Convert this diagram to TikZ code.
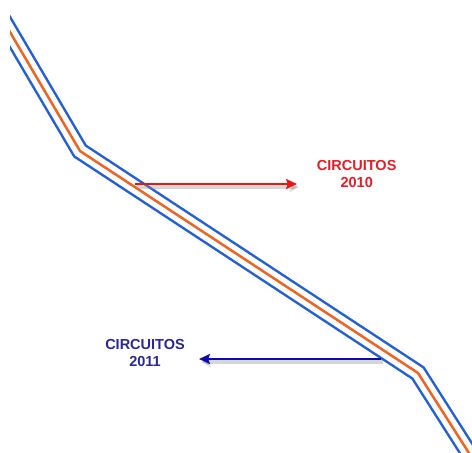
\documentclass[tikz,border=0pt]{standalone}
\usepackage{fontspec}
\setmainfont{Liberation Sans}
\usetikzlibrary{arrows.meta}
\definecolor{lineblue}{RGB}{35,95,215}
\definecolor{lineorange}{RGB}{240,100,35}
\definecolor{arrred}{RGB}{232,22,22}
\definecolor{arrblue}{RGB}{12,12,170}
\definecolor{txtred}{RGB}{228,30,40}
\definecolor{txtblue}{RGB}{42,40,150}
\tikzset{
  route/.style={line join=miter, miter limit=10},
  label2010/.style={text=txtred, font=\bfseries\fontsize{14.5}{17}\selectfont, align=center, inner sep=0pt},
  label2011/.style={text=txtblue, font=\bfseries\fontsize{14.5}{17}\selectfont, align=center, inner sep=0pt},
  shadowline/.style={draw=black!45, line width=3.2pt, opacity=0.35, -{Stealth[length=10pt,width=10pt]}},
  redarrow/.style={draw=arrred, line width=2.2pt, -{Stealth[length=11pt,width=10pt,inset=2pt]}},
  bluearrow/.style={draw=arrblue, line width=2.4pt, -{Stealth[length=11pt,width=10pt,inset=2pt]}},
}
\begin{document}
\begin{tikzpicture}[x=1pt,y=-1pt]
\useasboundingbox (0,0) rectangle (472,453);
\fill[white] (0,0) rectangle (472,453);
% route
\coordinate (p0) at (-5,6.6);
\coordinate (p1) at (80,151);
\coordinate (p2) at (418,373);
\coordinate (p3) at (490,486);
\begin{scope}
\clip (10,0) rectangle (472,453);
\draw[route, lineblue, line width=17.8pt] (p0) -- (p1) -- (p2) -- (p3);
\draw[route, white, line width=12.8pt] (p0) -- (p1) -- (p2) -- (p3);
\draw[route, lineorange, line width=2.5pt] (p0) -- (p1) -- (p2) -- (p3);
\end{scope}
% labels
\node[label2010] (t2010) at (356.7,174.5) {CIRCUITOS\\2010};
\node[label2011] (t2011) at (145,353.5) {CIRCUITOS\\2011};
% arrow end points
\coordinate (r0) at (135,184);
\coordinate (r1) at (297,184);
\coordinate (b0) at (381,359);
\coordinate (b1) at (199,359);
\coordinate (r0s) at (137,187);
\coordinate (r1s) at (299,187);
\coordinate (b0s) at (383,362);
\coordinate (b1s) at (201,362);
% shadows
\draw[shadowline] (r0s) -- (r1s);
\draw[shadowline] (b0s) -- (b1s);
% arrows
\draw[redarrow] (r0) -- (r1);
\draw[bluearrow] (b0) -- (b1);
\end{tikzpicture}
\end{document}
